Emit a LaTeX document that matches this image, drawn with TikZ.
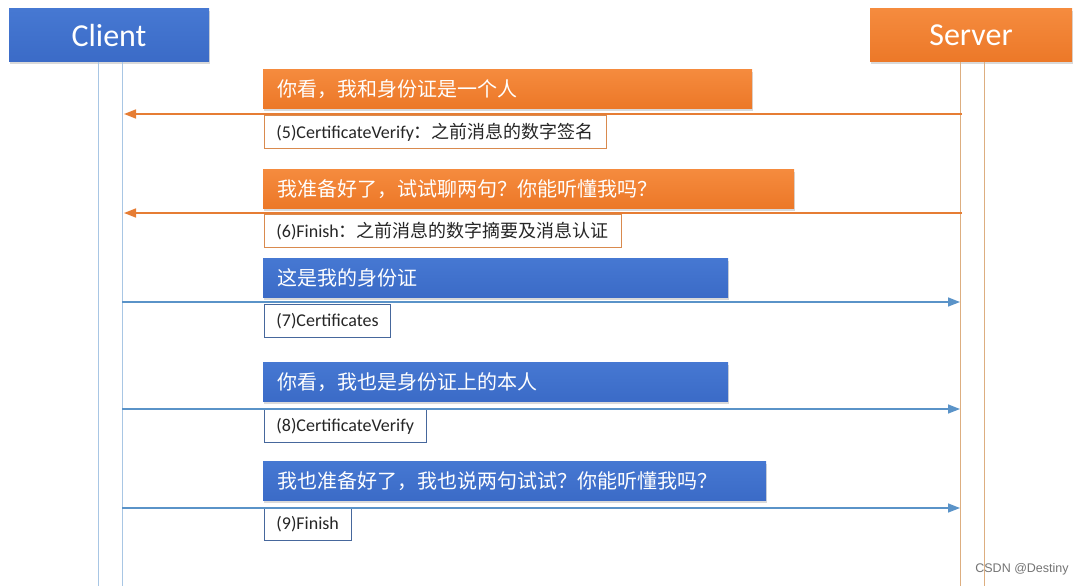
\documentclass[tikz,border=0pt]{standalone}
\usepackage{fontspec}
\setmainfont{Carlito}
\newfontfamily\cjk{Noto Sans CJK SC}
\newfontfamily\wmfont{Liberation Sans}
\usetikzlibrary{arrows.meta,shadows,positioning}

\definecolor{cblue}{HTML}{3B6BC7}
\definecolor{cbluetop}{HTML}{4678D2}
\definecolor{corange}{HTML}{EC7828}
\definecolor{corangetop}{HTML}{F58B3E}
\definecolor{linkblue}{HTML}{5A93C8}
\definecolor{linkorange}{HTML}{E67D34}
\definecolor{lifeblue}{HTML}{A8C6E4}
\definecolor{lifeorange}{HTML}{DDAE80}
\definecolor{edgeblue}{HTML}{46679C}
\definecolor{edgeorange}{HTML}{D98A4E}

\tikzset{
  actor/.style={minimum width=200pt, minimum height=53pt, inner sep=0pt,
    font=\fontsize{32}{34}\selectfont, text=white,
    drop shadow={opacity=0.3, shadow xshift=1pt, shadow yshift=-2pt}},
  msg/.style={anchor=north west, minimum height=39pt, inner xsep=14pt, inner ysep=0pt,
    align=left, font=\cjk\fontsize{20}{22}\selectfont, text=white,
    drop shadow={opacity=0.3, shadow xshift=1pt, shadow yshift=-2.5pt}},
  omsg/.style={msg, top color=corangetop, bottom color=corange},
  bmsg/.style={msg, top color=cbluetop, bottom color=cblue},
  tag/.style={draw, fill=white, line width=0.9pt, minimum height=33pt, inner xsep=12pt,
    inner ysep=0pt, font=\fontsize{18}{20}\selectfont, text=black!85},
  otag/.style={tag, draw=edgeorange},
  btag/.style={tag, draw=edgeblue},
  life/.style={line width=0.8pt},
  oarrow/.style={linkorange, line width=1.6pt, -{Triangle[length=12pt,width=9pt]}},
  barrow/.style={linkblue, line width=1.6pt, -{Triangle[length=12pt,width=9pt]}},
}
\newcommand{\zh}[1]{{\cjk\fontsize{18}{20}\selectfont #1}}

\begin{document}
\begin{tikzpicture}[x=1pt,y=-1pt]
  \useasboundingbox (0,0) rectangle (1080,586);

  % actors
  \node[actor, top color=cbluetop, bottom color=cblue] (client) at (109,35.5) {Client};
  \node[actor, top color=corangetop, bottom color=corange, minimum width=202pt] (server) at (971,35.5) {Server};

  % lifelines
  \coordinate (cl1) at (98,62);  \coordinate (cl1e) at (98,586);
  \coordinate (cl2) at (122,62); \coordinate (cl2e) at (122,586);
  \coordinate (sl1) at (960,62); \coordinate (sl1e) at (960,586);
  \coordinate (sl2) at (984,62); \coordinate (sl2e) at (984,586);
  \draw[life, lifeblue] (cl1) -- (cl1e);
  \draw[life, lifeblue] (cl2) -- (cl2e);
  \draw[life, lifeorange] (sl1) -- (sl1e);
  \draw[life, lifeorange] (sl2) -- (sl2e);

  % server -> client
  \node[omsg, text width=461pt] (m5) at (263,69) {你看，我和身份证是一个人};
  \node[otag, below right=7pt and 1pt of m5.south west] (t5) {(5)CertificateVerify\zh{：之前消息的数字签名}};
  \coordinate (s5) at (962,114); \coordinate (c5) at (124,114);
  \draw[oarrow] (s5) -- (c5);

  \node[omsg, text width=503pt] (m6) at (263,169) {我准备好了，试试聊两句？你能听懂我吗？};
  \node[otag, below right=6pt and 1pt of m6.south west] (t6) {(6)Finish\zh{：之前消息的数字摘要及消息认证}};
  \coordinate (s6) at (962,213); \coordinate (c6) at (124,213);
  \draw[oarrow] (s6) -- (c6);

  % client -> server
  \node[bmsg, text width=437pt] (m7) at (263,258) {这是我的身份证};
  \node[btag, below right=7pt and 1pt of m7.south west] (t7) {(7)Certificates};
  \coordinate (c7) at (122,302); \coordinate (s7) at (960,302);
  \draw[barrow] (c7) -- (s7);

  \node[bmsg, text width=437pt] (m8) at (263,362) {你看，我也是身份证上的本人};
  \node[btag, below right=8pt and 1pt of m8.south west] (t8) {(8)CertificateVerify};
  \coordinate (c8) at (122,409); \coordinate (s8) at (960,409);
  \draw[barrow] (c8) -- (s8);

  \node[bmsg, text width=475pt] (m9) at (263,461) {我也准备好了，我也说两句试试？你能听懂我吗？};
  \node[btag, below right=7pt and 1pt of m9.south west] (t9) {(9)Finish};
  \coordinate (c9) at (122,508); \coordinate (s9) at (960,508);
  \draw[barrow] (c9) -- (s9);

  \node[font=\wmfont\fontsize{12.5}{14}\selectfont, text=black!55] (wm) at (1022,569) {CSDN @Destiny};
\end{tikzpicture}
\end{document}
